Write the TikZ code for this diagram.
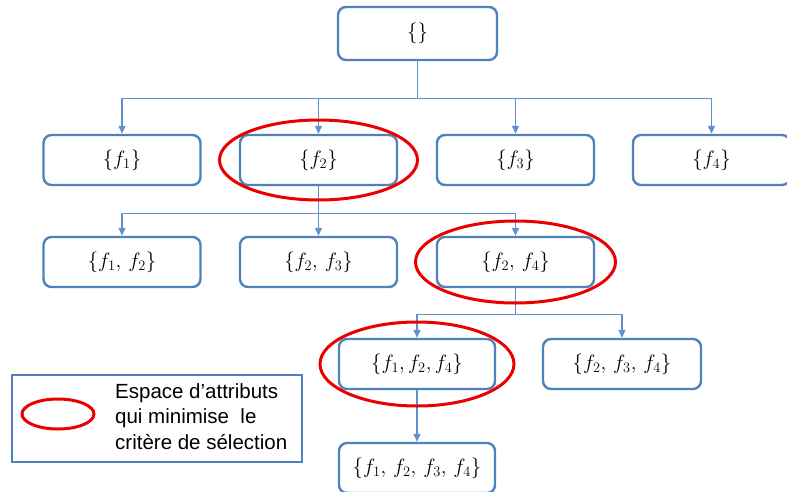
\documentclass[tikz,border=0pt]{standalone}
\usepackage{fontspec}
\newfontfamily\legendfont{Liberation Sans}
\usetikzlibrary{arrows.meta}
\definecolor{boxblue}{RGB}{79,129,189}
\definecolor{linkblue}{RGB}{95,145,205}
\definecolor{selred}{RGB}{235,0,0}
\tikzset{
  setbox/.style={draw=boxblue, line width=2.4pt, rounded corners=8pt,
    minimum width=157pt, minimum height=50pt, inner sep=0pt,
    font=\fontsize{21}{25}\selectfont},
  link/.style={draw=linkblue, line width=1.2pt, -{Triangle[length=8pt,width=7pt]}},
  sel/.style={draw=selred, line width=3pt},
  legendbox/.style={draw=boxblue, line width=2.4pt, minimum width=290pt,
    minimum height=87pt, inner sep=0pt},
}
\begin{document}
\begin{tikzpicture}[x=1pt,y=-1pt]
\useasboundingbox (0,0) rectangle (787,491);
\clip (0,0) rectangle (787,491);
% nodes
\node[setbox, minimum width=159pt, minimum height=53pt] (root) at (417.5,33.5) {$\{\}$};
\node[setbox] (f1) at (122,160) {$\{f_1\}$};
\node[setbox] (f2) at (318.5,160) {$\{f_2\}$};
\node[setbox] (f3) at (515.5,160) {$\{f_3\}$};
\node[setbox] (f4) at (711.5,160) {$\{f_4\}$};
\node[setbox] (f12) at (122,262) {$\{f_1,\,f_2\}$};
\node[setbox] (f23) at (318.5,262) {$\{f_2,\,f_3\}$};
\node[setbox] (f24) at (515.5,262) {$\{f_2,\,f_4\}$};
\node[setbox, minimum width=156pt] (f124) at (417,364) {$\{f_1,f_2,f_4\}$};
\node[setbox, minimum width=158pt] (f234) at (622,364) {$\{f_2,\,f_3,\,f_4\}$};
\node[setbox, minimum width=156pt] (f1234) at (417,468) {$\{f_1,\,f_2,\,f_3,\,f_4\}$};
% connectors
\draw[link] (root.south) -- ++(0,37) -| (f1.north);
\draw[link] (root.south) -- ++(0,37) -| (f2.north);
\draw[link] (root.south) -- ++(0,37) -| (f3.north);
\draw[link] (root.south) -- ++(0,37) -| (f4.north);
\draw[link] (f2.south) -- ++(0,27) -| (f12.north);
\draw[link] (f2.south) -- ++(0,27) -| (f23.north);
\draw[link] (f2.south) -- ++(0,27) -| (f24.north);
\draw[link] (f24.south) -- ++(0,26) -| (f124.north);
\draw[link] (f24.south) -- ++(0,26) -| (f234.north);
\draw[link] (f124.south) -- (f1234.north);
% selection ellipses
\draw[sel] (f2.center) ellipse [x radius=99pt, y radius=40pt];
\draw[sel] (f24.center) ellipse [x radius=100pt, y radius=41pt];
\draw[sel] (f124.center) ellipse [x radius=97pt, y radius=42pt];
% legend
\node[legendbox] (legend) at (157,418.5) {};
\draw[sel] (58,414) ellipse [x radius=36pt, y radius=15pt];
\node[anchor=north west, align=left, inner sep=0pt,
  font=\legendfont\fontsize{20.5}{25.5}\selectfont] (legtxt) at (115,383)
  {Espace d’attributs\\qui minimise\ \ le\\critère de sélection};
\end{tikzpicture}
\end{document}
